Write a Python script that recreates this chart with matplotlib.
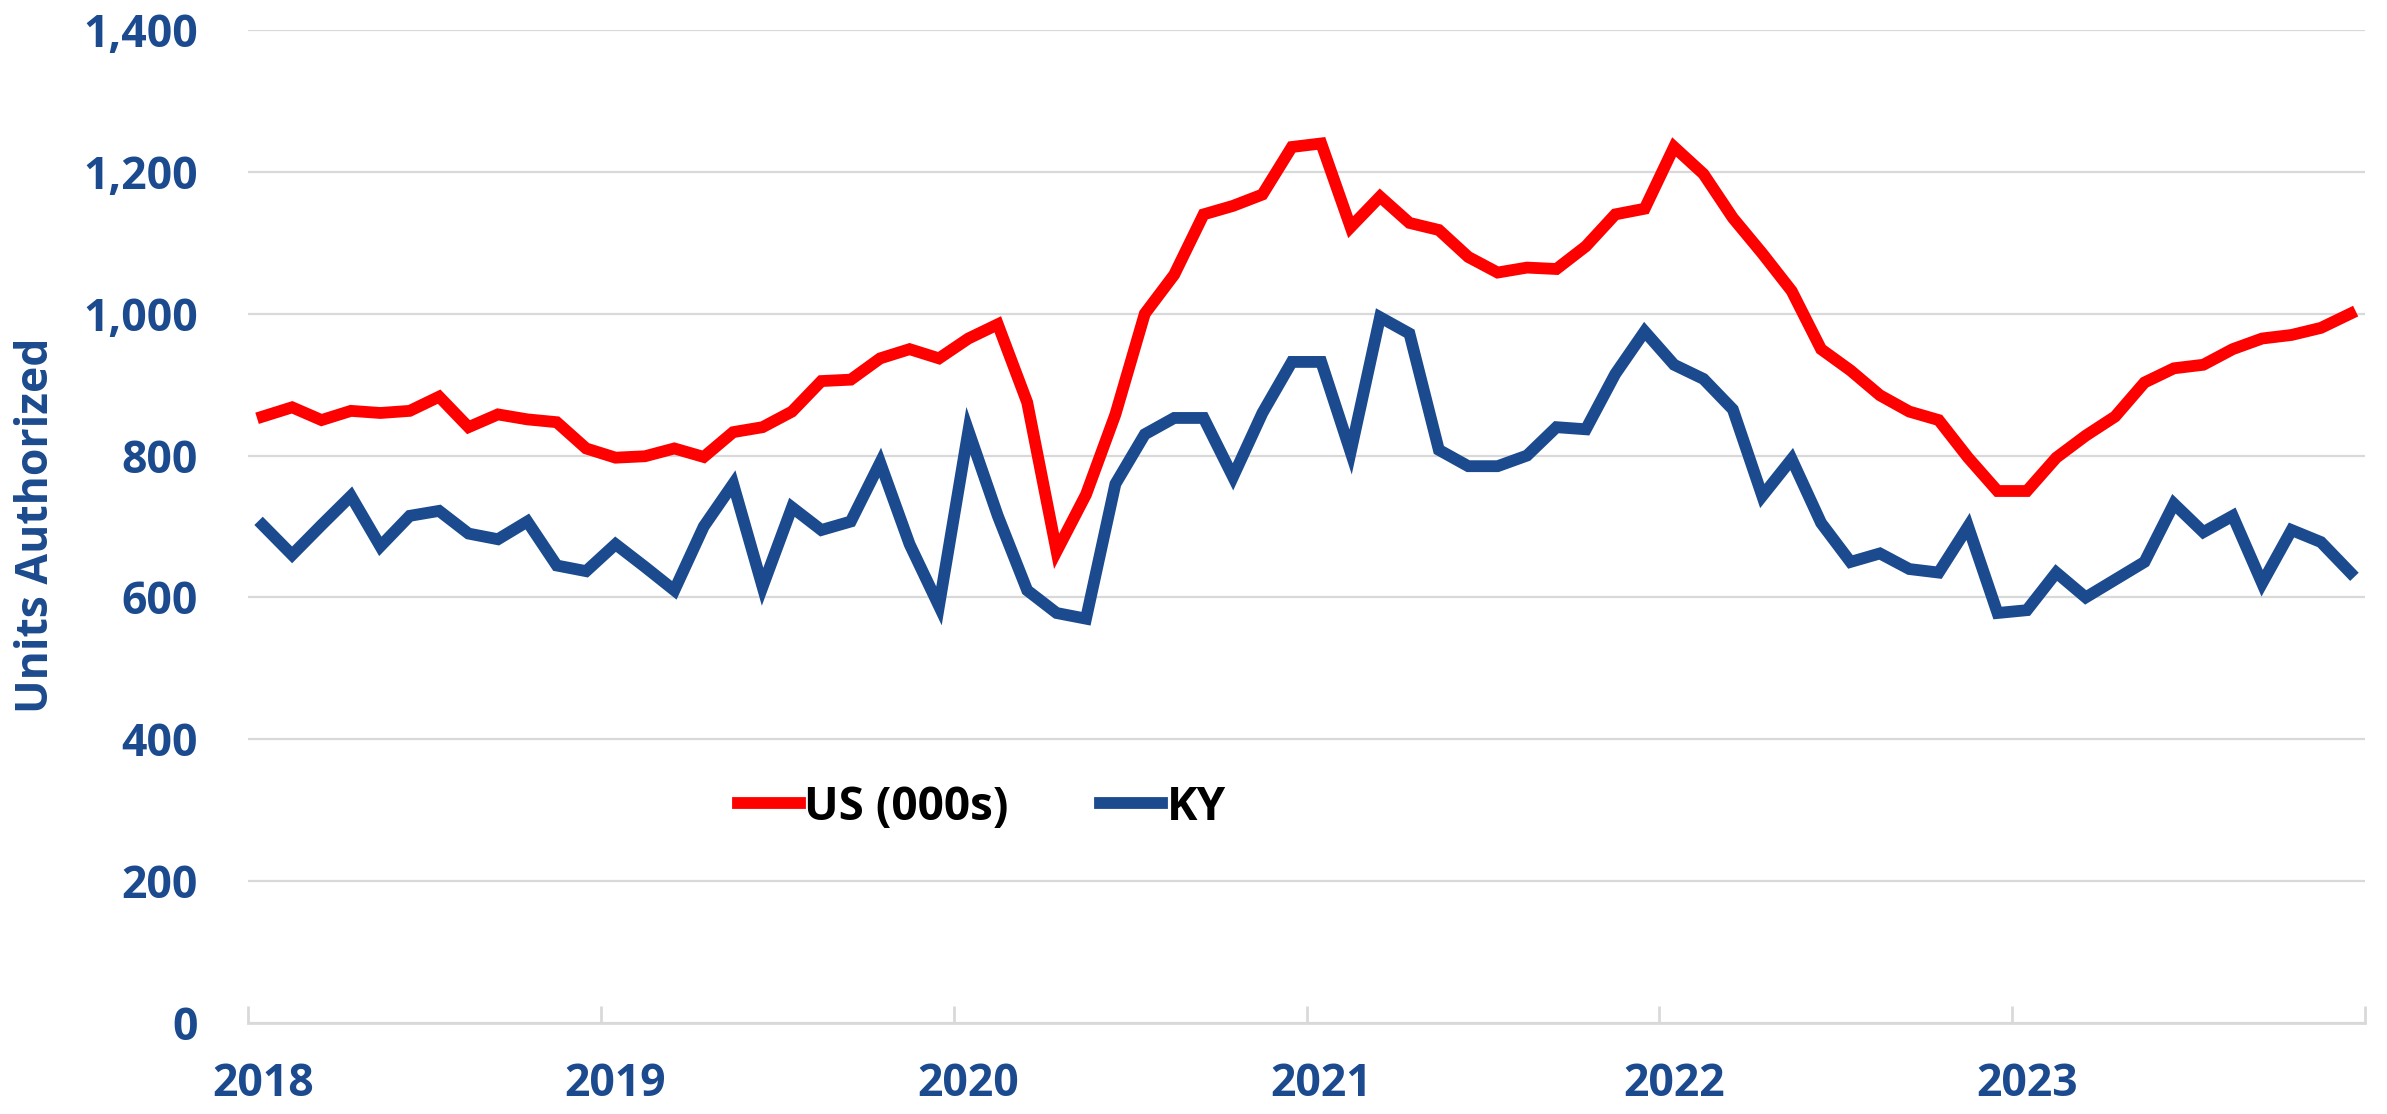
import matplotlib
matplotlib.use("Agg")
import matplotlib.pyplot as plt
from matplotlib.ticker import FuncFormatter, FixedLocator

# monthly building permits, Jan 2018 - Dec 2023
years = ["2018", "2019", "2020", "2021", "2022", "2023"]
us = [855, 868, 850, 863, 860, 863, 883, 840, 858, 851, 847, 810,
      797, 799, 810, 798, 833, 840, 862, 905, 907, 937, 950, 937,
      965, 985, 875, 665, 745, 858, 1000, 1055, 1140, 1152, 1168, 1235,
      1240, 1122, 1165, 1128, 1118, 1080, 1058, 1065, 1063, 1095, 1140, 1148,
      1235, 1197, 1135, 1085, 1032, 950, 920, 885, 862, 850, 797, 750,
      750, 797, 828, 855, 903, 923, 928, 950, 965, 970, 980, 1000]
ky = [702, 660, 702, 743, 672, 715, 722, 690, 682, 707, 645, 637,
      675, 643, 610, 700, 760, 615, 727, 695, 707, 790, 675, 588,
      835, 715, 610, 578, 570, 760, 830, 853, 853, 770, 860, 932,
      932, 805, 995, 972, 808, 785, 785, 800, 840, 837, 915, 975,
      928, 908, 865, 743, 795, 705, 650, 662, 640, 635, 700, 578,
      582, 635, 600, 625, 650, 732, 692, 715, 620, 695, 678, 635]

blue = "#1B4A8E"
red = "#FF0000"
grey = "#D9D9D9"
font = ["Open Sans", "DejaVu Sans"]

fig = plt.figure(figsize=(23.87, 11.14), dpi=100)
ax = fig.add_axes([0.1039, 0.0817, 0.8869, 0.8914])

x = list(range(len(us)))
ax.plot(x, us, color=red, lw=8.5, label="US (000s)", solid_joinstyle="miter")
ax.plot(x, ky, color=blue, lw=8.5, label="KY", solid_joinstyle="miter")

ax.set_xlim(-0.5, len(us) - 0.5)
ax.set_ylim(0, 1400)
ax.set_yticks(range(0, 1401, 200))
ax.yaxis.set_major_formatter(FuncFormatter(lambda v, p: f"{int(v):,}"))
ax.grid(axis="y", color=grey, lw=1.6)
ax.set_axisbelow(True)

# year labels on January, tick marks between years
ax.set_xticks([12 * k for k in range(len(years))])
ax.set_xticklabels(years)
ax.xaxis.set_minor_locator(FixedLocator([12 * k - 0.5 for k in range(len(years) + 1)]))
ax.tick_params(axis="x", which="major", length=0, pad=28)
ax.tick_params(axis="x", which="minor", direction="in", length=12, width=2, color=grey)
ax.tick_params(axis="y", length=0, pad=36)

for lab in ax.get_xticklabels() + ax.get_yticklabels():
    lab.set_fontsize(32)
    lab.set_fontweight("bold")
    lab.set_family(font)
    lab.set_color(blue)

for s in ["left", "right", "top"]:
    ax.spines[s].set_visible(False)
ax.spines["bottom"].set_color(grey)
ax.spines["bottom"].set_linewidth(2)

ax.set_ylabel("Units Authorized", fontsize=32, fontweight="bold", color=blue, family=font)
ax.yaxis.set_label_coords(-0.0895, 0.5015)

leg = ax.legend(loc="center", bbox_to_anchor=(0.3467, 0.2175), ncol=2, frameon=False,
                prop={"size": 33, "weight": "bold", "family": font}, handlelength=1.35,
                handletextpad=0.1, columnspacing=2.0)

fig.savefig("out.png", dpi=100)
